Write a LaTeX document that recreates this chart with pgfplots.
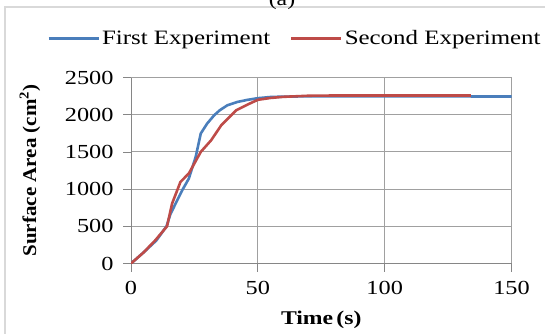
\documentclass[border=0pt]{standalone}
\usepackage{pgfplots}
\pgfplotsset{compat=1.18}
\usepackage{fontspec}
\setmainfont{Liberation Serif}[FakeStretch=1.22]
\newfontfamily\ylabfont{Liberation Serif}[FakeStretch=1.08]
\definecolor{blueS}{HTML}{4A7EBB}
\definecolor{redS}{HTML}{BE4B48}
\definecolor{gridG}{HTML}{A0A0A0}
\definecolor{axG}{HTML}{868686}
\definecolor{frameG}{HTML}{D9D9D9}
\begin{document}
\begin{tikzpicture}[x=1bp,y=1bp]
\useasboundingbox (0,0) rectangle (545,333);
\draw[frameG, line width=2bp] (5,-10) -- (5,325.5) -- (560,325.5);
\node[font=\fontsize{19.5}{22}\selectfont, anchor=base] at (282,328) {(a)};
\begin{axis}[
  at={(131bp,69.5bp)}, anchor=south west,
  scale only axis, width=380.5bp, height=186bp,
  xmin=0, xmax=150, ymin=0, ymax=2500,
  xtick={0,50,100,150}, ytick={0,500,1000,1500,2000,2500},
  tick align=outside, major tick length=8bp,
  tick style={axG, line width=0.8bp},
  grid=major, grid style={gridG, line width=0.9bp},
  axis line style={axG, line width=0.9bp},
  axis x line*=bottom, axis y line*=left,
  /pgf/number format/assume math mode=true,
  /pgf/number format/1000 sep={},
  ticklabel style={font=\fontsize{20}{22}\selectfont},
  xticklabel style={yshift=-6bp},
  yticklabel style={xshift=-6bp},
  xlabel={\bfseries Time\,(s)},
  ylabel={\ylabfont\bfseries Surface Area (cm\textsuperscript{2})},
  label style={font=\fontsize{19.5}{22}\selectfont},
  xlabel style={at={(axis description cs:0.5,-0.301)}, anchor=center},
  ylabel style={at={(axis description cs:-0.2654,0.5)}, anchor=center},
  legend columns=2,
  legend style={draw=none, fill=none, at={(0.431,1.21)}, anchor=center,
    font=\fontsize{20.5}{22}\selectfont, inner sep=0pt,
    /tikz/every even column/.append style={column sep=18bp}},
  legend cell align=left,
  legend image code/.code={\draw[#1] (0bp,0bp) -- (50bp,0bp);},
]
\addplot[blueS, line width=2.6bp] coordinates {
(0,0) (5,150) (10,310) (14,500) (15.5,660) (17.5,800) (20.2,985) (22.8,1142)
(25.5,1433) (27.5,1747) (30,1880) (32.8,1993) (35,2060) (38,2127) (42,2172)
(46,2200) (50,2222) (55,2238) (60,2243) (70,2247) (100,2246) (150,2245)};
\addlegendentry{First Experiment}
\addplot[redS, line width=2.6bp] coordinates {
(0,0) (5,150) (9.6,313) (14.2,500) (16.2,806) (19.5,1097) (22.8,1210)
(27.5,1500) (31.6,1657) (35.6,1859) (41.5,2060) (46.8,2150) (50,2200)
(55,2225) (60,2240) (70,2255) (80,2258) (134,2258)};
\addlegendentry{Second Experiment}
\end{axis}
\end{tikzpicture}
\end{document}
